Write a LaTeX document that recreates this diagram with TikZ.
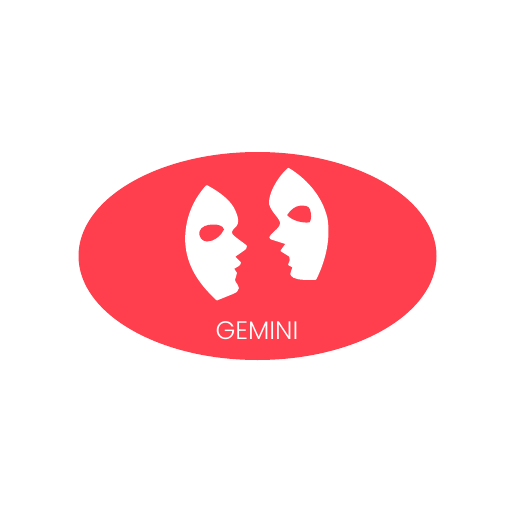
\documentclass[tikz,border=0pt]{standalone}
\usepackage{fontspec}
\setmainfont{Poppins Light}
\begin{document}
\begin{tikzpicture}[
    x=0.01cm, y=-0.01cm,
    badge/.style={fill=badgered, draw=none},
    mask/.style={fill=white, draw=white, line width=0.5pt, line join=round},
    eyehole/.style={fill=badgered, draw=none},
    title/.style={text=white, font=\fontsize{7.2pt}{8pt}\selectfont}
  ]
    \definecolor{badgered}{HTML}{FF3F4D}
    \useasboundingbox (0,0) rectangle (512,512);

    % Background
    \fill[white] (0,0) rectangle (512,512);
    \fill[badge] (257.5,256) ellipse [x radius=179, y radius=104];

    % Left face
    \path[mask] (206.7,186) .. controls (218,192) and (231,201) .. (235,212)
      .. controls (238,219) and (238,223) .. (235.5,226)
      .. controls (232,229) and (229.5,232) .. (232,235)
      .. controls (236,239) and (241,242) .. (246,246)
      .. controls (246,248) and (245,249) .. (244,249.5)
      -- (234,256.5) -- (240,262.5) .. controls (240,264) and (239,265) .. (238,265.5)
      -- (233,268.5) -- (236,273) .. controls (236,276) and (234,278) .. (234,280)
      .. controls (235,284) and (238,285) .. (238,288)
      .. controls (238,291) and (235,292) .. (233,293)
      -- (217,299.5) .. controls (197,281) and (186,262) .. (186,238)
      .. controls (186.5,216) and (195,199) .. (206.7,186) -- cycle;
    \fill[eyehole] (199.5,231.5) .. controls (201,226.5) and (207,224.5) .. (213,224.5)
      .. controls (218,224.5) and (223,225.5) .. (224,229.5)
      .. controls (221,236) and (214,241.5) .. (207,241.5)
      .. controls (201.5,241.5) and (198.5,236) .. (199.5,231.5) -- cycle;

    % Right face
    \path[mask] (288.3,168.7) .. controls (304,178) and (321,195) .. (326.5,218)
      .. controls (330,238) and (325,260) .. (315.5,279)
      .. controls (308,279) and (299,279.5) .. (294,277)
      .. controls (291,275) and (290,273) .. (292,271)
      -- (293.5,267) -- (289,264.5) .. controls (291,261) and (291,258) .. (290,256)
      -- (281.5,250.7) -- (286.7,243.5) -- (271,238.5) .. controls (270,237.5) and (270,236.5) .. (271,236)
      .. controls (275,231) and (281,228) .. (281,223.3)
      .. controls (281,218) and (272,212) .. (270,204)
      .. controls (269,195) and (277,179) .. (288.3,168.7) -- cycle;
    \fill[eyehole] (287.2,215) .. controls (290,210.5) and (295,206) .. (300,205.7)
      .. controls (305,205.3) and (309,206) .. (310,209.5)
      .. controls (311.5,214) and (311.5,220) .. (309.5,222.3)
      .. controls (303,223.5) and (291.5,220.5) .. (287.2,215) -- cycle;

    % Title
    \node[title] (label) at (257,331) {GEMINI};
  \end{tikzpicture}
\end{document}
